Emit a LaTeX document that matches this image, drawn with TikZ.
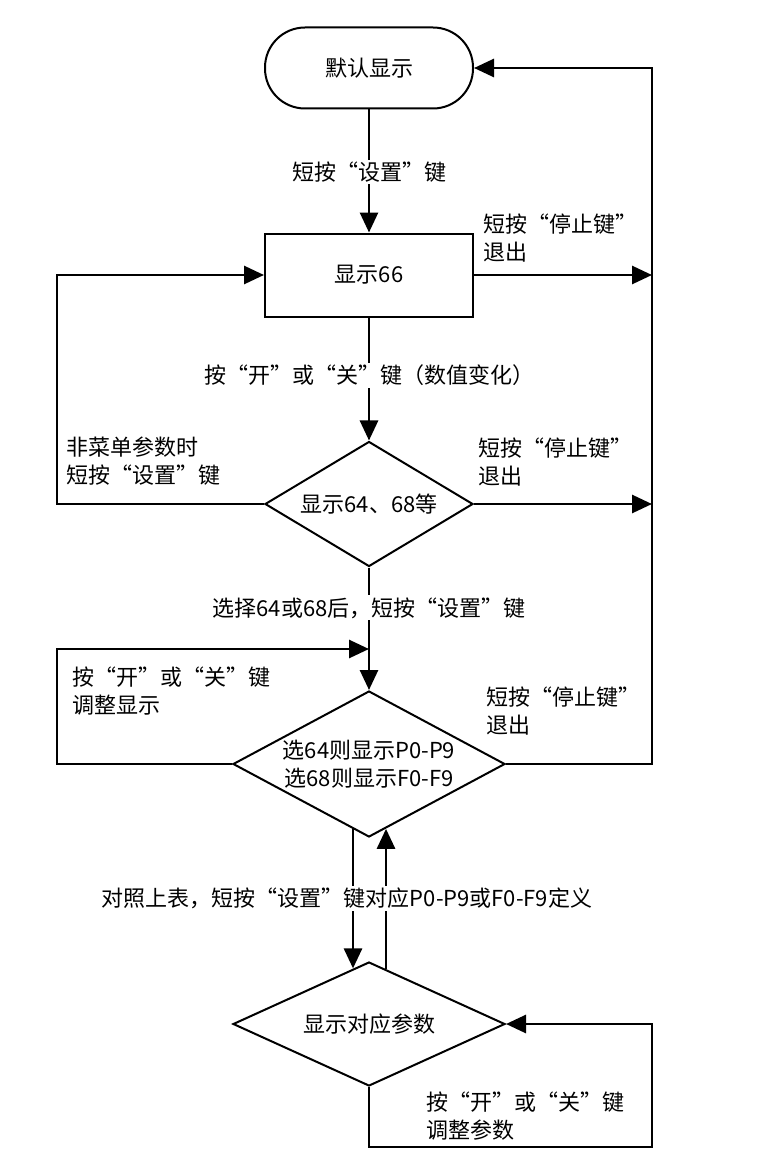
\documentclass[tikz,border=0pt]{standalone}
\usepackage{fontspec}
\setmainfont{Noto Sans CJK SC}
\usetikzlibrary{arrows.meta,shapes.geometric,calc}
\begin{document}
\begin{tikzpicture}[x=1pt,y=-1pt,
  every node/.style={font=\fontsize{22pt}{28pt}\selectfont},
  shp/.style={draw,line width=2pt,inner sep=0pt,align=center},
  dia/.style={shp,diamond},
  conn/.style={line width=2.8pt},
  arr/.style={conn,-{Triangle[length=20pt,width=18pt]}},
  lbl/.style={fill=white,inner sep=2pt},
  note/.style={align=left,anchor=west,inner sep=0pt}]
\useasboundingbox (0,0) rectangle (761,1169);
% shapes
\node[shp,rounded corners=40pt,minimum width=208pt,minimum height=81pt] (term) at (369,68) {默认显示};
\node[shp,minimum width=208pt,minimum height=83pt] (r66) at (369,275) {显示66};
\node[dia,shape aspect=1.66,minimum width=208pt,minimum height=125pt] (d1) at (369,504) {显示64、68等};
\node[dia,shape aspect=1.86,minimum width=272pt,minimum height=146pt] (d2) at (369,764) {选64则显示P0-P9\\选68则显示F0-F9};
\node[dia,shape aspect=2.19,minimum width=272pt,minimum height=124pt] (d3) at (369,1024) {显示对应参数};
% helper coordinates
\coordinate (rx) at (652,68);
\coordinate (lx) at (57,275);
\coordinate (lp) at (57,649);
\coordinate (bl) at (652,1147);
\coordinate (l1) at (353,700);
\coordinate (l2) at (353,1100);
\coordinate (r1) at (386,700);
\coordinate (r2) at (386,1100);
% main flow
\draw[arr] (term) -- node[lbl,pos=0.51] {短按“设置”键} (r66);
\draw[arr] (r66) -- node[lbl,pos=0.47] {按“开”或“关”键（数值变化）} (d1);
\draw[arr] (d1) -- node[lbl,pos=0.33] {选择64或68后，短按“设置”键} (d2);
% exits to the right
\draw[arr] (r66.east) -- (r66.east -| rx);
\draw[arr] (d1.east) -- (d1.east -| rx);
\draw[arr] (d2.east) -- (d2.east -| rx) -- (rx) -- (term.east);
% left loops
\draw[arr] (d1.west) -- (d1.west -| lx) |- (r66.west);
\draw[arr] (d2.west) -| (lp) -- (lp -| d2.north);
% bottom loop
\draw[arr] (d3.south) |- (bl) |- (d3.east);
% two parallel connectors
\draw[arr] (intersection of d2.south--d2.west and l1--l2) -- (intersection of d3.north--d3.west and l1--l2);
\draw[arr] (intersection of d3.north--d3.east and r1--r2) -- (intersection of d2.south--d2.east and r1--r2);
\node[lbl] (mid) at (347,898) {对照上表，短按“设置”键对应P0-P9或F0-F9定义};
% notes
\node[note] (n1) at (483,238) {短按“停止键”\\退出};
\node[note] (n2) at (478,462) {短按“停止键”\\退出};
\node[note] (n3) at (66,461) {非菜单参数时\\短按“设置”键};
\node[note] (n4) at (72,691) {按“开”或“关”键\\调整显示};
\node[note] (n5) at (486,711) {短按“停止键”\\退出};
\node[note] (n6) at (426,1116) {按“开”或“关”键\\调整参数};
\end{tikzpicture}
\end{document}
